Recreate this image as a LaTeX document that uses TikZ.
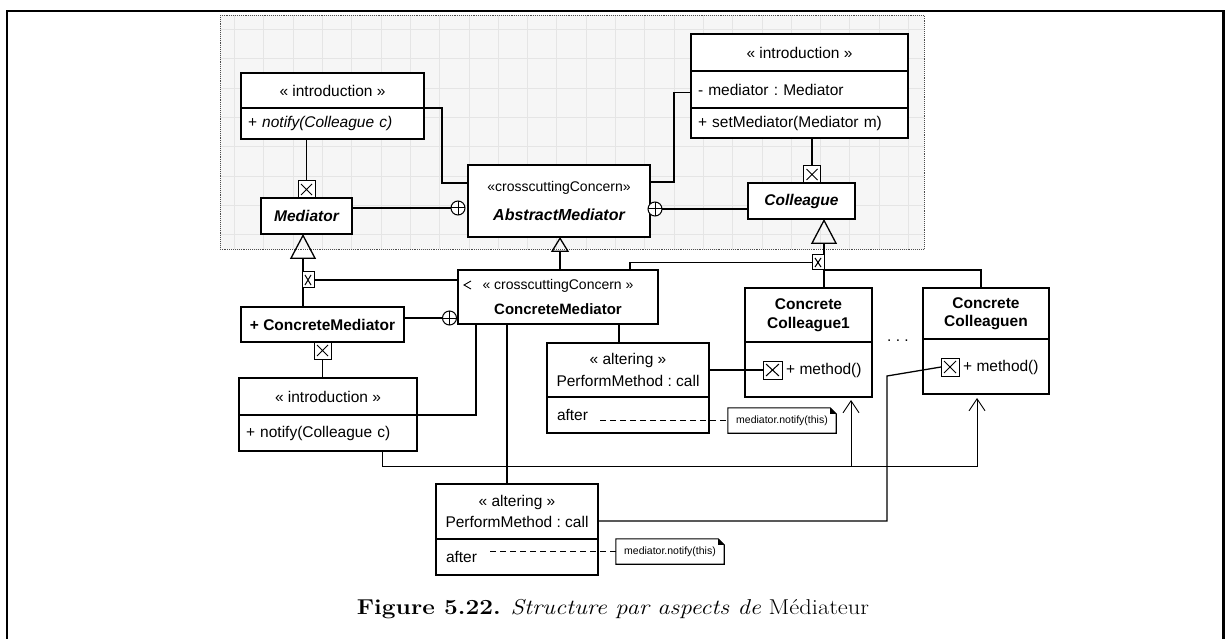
\documentclass[tikz,border=0pt]{standalone}
\usepackage{fontspec}
\setsansfont{Liberation Sans}
\usetikzlibrary{positioning, arrows.meta, calc}

\newcommand{\umlfont}{\sffamily\frenchspacing\fontsize{15.5}{18.5}\selectfont}

\begin{document}
\begin{tikzpicture}[
    x=1pt, y=-1pt,
    umlbox/.style={rectangle, draw=black, line width=1.4pt, fill=white, font=\umlfont, inner sep=0pt, outer sep=0pt, align=center},
    compart/.style={umlbox, align=left, inner xsep=7pt},
    xbox/.style={rectangle, draw=black, line width=1pt, fill=white, minimum width=17pt, minimum height=17pt, inner sep=0pt, outer sep=0pt,
        path picture={\draw[line width=1pt] ([shift={(3pt,3pt)}]path picture bounding box.south west) -- ([shift={(-3pt,-3pt)}]path picture bounding box.north east)
            ([shift={(3pt,-3pt)}]path picture bounding box.north west) -- ([shift={(-3pt,3pt)}]path picture bounding box.south east);}},
    oplus/.style={circle, draw=black, line width=1pt, fill=white, minimum size=14pt, inner sep=0pt, outer sep=0pt,
        path picture={\draw[line width=1pt] (path picture bounding box.west) -- (path picture bounding box.east)
            (path picture bounding box.north) -- (path picture bounding box.south);}},
    link/.style={draw=black, line width=1.3pt},
    gen/.style={link, -{Triangle[open, length=25pt, width=26pt]}},
    gensmall/.style={link, -{Triangle[open, length=15pt, width=18pt]}},
    dep/.style={draw=black, line width=0.9pt, -{Straight Barb[length=12pt, width=16pt]}},
    note/.style={font=\sffamily\fontsize{10.5}{12}\selectfont, minimum width=108pt, minimum height=25pt, inner sep=0pt},
    trace/.style={draw=black, line width=1.1pt, dash pattern=on 6pt off 4pt}
]
    \useasboundingbox (0,0) rectangle (1227,639);

    % page frame and aspect area
    \draw[line width=2.2pt] (7,650) -- (7,11) -- (1223.5,11) -- (1223.5,650);
    \fill[gray!7] (220,15) rectangle (924,249);
    \draw[gray!20, line width=0.5pt, step=29.3pt] (220,249) grid (924,15);
    \draw[black!70, densely dotted, line width=0.9pt] (220,15) rectangle (924,249);

    % Mediator side of the aspect
    \node[umlbox, minimum width=183pt, minimum height=35pt] (introMed) at (332.5,90.5) {« introduction »};
    \node[compart, text width=169pt, minimum height=31pt, below=0pt of introMed] (introMedOp) {+ \textit{notify(Colleague c)}};
    \node[umlbox, minimum width=91pt, minimum height=36pt, font=\umlfont\bfseries\itshape] (mediator) at (306.5,216) {Mediator};
    \node[xbox, above=0pt of mediator] (xMed) {};
    \draw[link] (xMed.north) -- (xMed.north |- introMedOp.south);

    \node[umlbox, minimum width=182pt, minimum height=72pt] (abstractMed) at (559,201)
        {{\fontsize{14}{17}\selectfont«crosscuttingConcern»}\\[11pt]{\fontsize{16}{19}\selectfont\bfseries\itshape AbstractMediator}};
    \node[oplus] (plusL) at (458,208) {};
    \draw[link] (plusL.west) -- (plusL -| mediator.east);
    \draw[link] (introMed.south east) -| ([xshift=-26pt, yshift=18pt]abstractMed.west) -- ([yshift=18pt]abstractMed.west);

    % Colleague side of the aspect
    \node[umlbox, minimum width=217pt, minimum height=37pt] (introCol) at (799.5,52.5) {« introduction »};
    \node[compart, text width=203pt, minimum height=37pt, below=0pt of introCol] (introColAttr) {- mediator : Mediator};
    \node[compart, text width=203pt, minimum height=30pt, below=0pt of introColAttr] (introColOp) {+ setMediator(Mediator m)};
    \node[umlbox, minimum width=107pt, minimum height=36pt, font=\umlfont\bfseries\itshape] (colleague) at (801.5,201) {Colleague};
    \node[xbox] (xCol) at (812,174.5) {};
    \draw[link] (xCol.north) -- (xCol.north |- introColOp.south);
    \node[oplus] (plusR) at (655,209) {};
    \draw[link] (plusR.east) -- (plusR -| colleague.west);
    \draw[link] ([yshift=19pt]abstractMed.east) -- ++(24pt,0) |- ([yshift=-3pt]introColAttr.west);

    % ConcreteMediator
    \node[umlbox, minimum width=200pt, minimum height=54pt] (concreteMed) at (558,297)
        {{\fontsize{14}{17}\selectfont « crosscuttingConcern »}\\[7pt]{\fontsize{15}{18}\selectfont\bfseries ConcreteMediator}};
    \draw[gensmall] ([xshift=2pt]concreteMed.north) -- ([xshift=2pt]concreteMed.north |- abstractMed.south);
    \draw[draw=black, line width=0.9pt] ([xshift=13pt, yshift=16pt]concreteMed.west) -- ([xshift=6pt, yshift=12pt]concreteMed.west) -- ([xshift=13pt, yshift=8pt]concreteMed.west);

    \node[umlbox, minimum width=163pt, minimum height=35pt, font=\umlfont\bfseries] (medImpl) at (322.5,324.5) {+ ConcreteMediator};
    \coordinate (medBus) at (303,250);
    \draw[gen] (medBus |- medImpl.north) -- (medBus |- mediator.south);
    \node[xbox, minimum width=12pt, minimum height=16pt] (xMedImpl) at (308,280) {};
    \draw[link] (xMedImpl.east) -- (xMedImpl.east -| concreteMed.west);
    \node[oplus] (plusM) at (449.5,318) {};
    \draw[link] (plusM.west) -- (plusM -| medImpl.east);
    \node[xbox, below=0pt of medImpl] (xNotify) {};

    \node[umlbox, minimum width=178pt, minimum height=37pt] (introNotify) at (328,396.5) {« introduction »};
    \node[compart, text width=164pt, minimum height=36pt, below=0pt of introNotify] (introNotifyOp) {+ notify(Colleague c)};
    \draw[link] (xNotify.south) -- (xNotify.south |- introNotify.north);
    \draw[link] (introNotify.south east) -| ([xshift=-82pt]concreteMed.south);

    % altering on ConcreteColleague1
    \node[umlbox, minimum width=162pt, minimum height=54pt] (altOne) at (628,370) {« altering »\\[3pt]PerformMethod : call};
    \node[compart, text width=142pt, inner xsep=10pt, minimum height=36pt, below=0pt of altOne] (altOneAfter) {after};
    \draw[link] ([xshift=-9pt]altOne.north) -- ([xshift=-9pt]altOne.north |- concreteMed.south);
    \node[note] (noteOne) at (782,420.5) {mediator.notify(this)};
    \draw[line width=1.1pt] (noteOne.south west) -- (noteOne.north west) -- ([xshift=-6pt]noteOne.north east) -- ([yshift=-6pt]noteOne.north east) -- (noteOne.south east) -- cycle;
    \fill ([xshift=-6pt]noteOne.north east) -- ([xshift=-6pt, yshift=-6pt]noteOne.north east) -- ([yshift=-6pt]noteOne.north east) -- cycle;
    \coordinate (afterOne) at ([xshift=53pt]altOneAfter.west);
    \draw[trace] (afterOne |- noteOne.west) -- (noteOne.west);

    % Colleagues
    \node[umlbox, minimum width=127pt, minimum height=54pt, font=\umlfont\bfseries] (collOne) at (808.5,315) {Concrete\\Colleague1};
    \node[umlbox, minimum width=127pt, minimum height=55pt, below=0pt of collOne] (collOneOp) {};
    \node[xbox, minimum width=19pt, minimum height=18pt] (xMethOne) at (772.5,370) {};
    \node[font=\umlfont, inner sep=0pt, right=4pt of xMethOne] (methOne) {+ method()};
    \draw[link] (altOne.east) -- (xMethOne.west);

    \node[umlbox, minimum width=126pt, minimum height=51pt, font=\umlfont\bfseries] (collN) at (986,313.5) {Concrete\\Colleaguen};
    \node[umlbox, minimum width=126pt, minimum height=55pt, below=0pt of collN] (collNOp) {};
    \node[xbox, minimum width=18pt, minimum height=18pt] (xMethN) at (950,367) {};
    \node[font=\umlfont, inner sep=0pt, right=4pt of xMethN] (methN) {+ method()};
    \node[font=\umlfont] (dots) at (898,341) {. . .};

    \coordinate (colBus) at (824,262);
    \draw[gen] (colBus |- collOne.north) -- (colBus |- colleague.south);
    \node[xbox, minimum width=12pt, minimum height=15pt] (xColImpl) at (818,262.5) {};
    \draw[link] ([xshift=72pt]concreteMed.north) |- (xColImpl.west);
    \draw[link] (xColImpl.south east) -| ([xshift=-5pt]collN.north);

    % altering on ConcreteColleaguen
    \node[umlbox, minimum width=162pt, minimum height=55pt] (altTwo) at (517,511.5) {« altering »\\[3pt]PerformMethod : call};
    \node[compart, text width=142pt, inner xsep=10pt, minimum height=36pt, below=0pt of altTwo] (altTwoAfter) {after};
    \draw[link] ([xshift=-10pt]altTwo.north) -- ([xshift=-10pt]altTwo.north |- concreteMed.south);
    \node[note] (noteTwo) at (670,551.5) {mediator.notify(this)};
    \draw[line width=1.1pt] (noteTwo.south west) -- (noteTwo.north west) -- ([xshift=-6pt]noteTwo.north east) -- ([yshift=-6pt]noteTwo.north east) -- (noteTwo.south east) -- cycle;
    \fill ([xshift=-6pt]noteTwo.north east) -- ([xshift=-6pt, yshift=-6pt]noteTwo.north east) -- ([yshift=-6pt]noteTwo.north east) -- cycle;
    \coordinate (afterTwo) at ([xshift=54pt]altTwoAfter.west);
    \draw[trace] (afterTwo |- noteTwo.west) -- (noteTwo.west);
    \coordinate (bendN) at (887,376);
    \draw[link] ([yshift=-9.5pt]altTwo.east) -| (bendN) -- (xMethN.west);

    % notify calls towards the colleagues
    \coordinate (lowBus) at (851,466);
    \coordinate (arrowN) at (977,466);
    \draw[dep, shorten >=4pt] ([xshift=54pt]introNotifyOp.south) |- (arrowN) -- (arrowN |- collNOp.south);
    \draw[dep, shorten >=3pt] (lowBus) -- (lowBus |- collOneOp.south);

    % caption
    \node[font=\fontsize{21.5}{26}\selectfont] (caption) at (613,609)
        {\scalebox{1.14}[1]{\textbf{Figure 5.22.} \textit{Structure par aspects de} Médiateur}};
\end{tikzpicture}
\end{document}
